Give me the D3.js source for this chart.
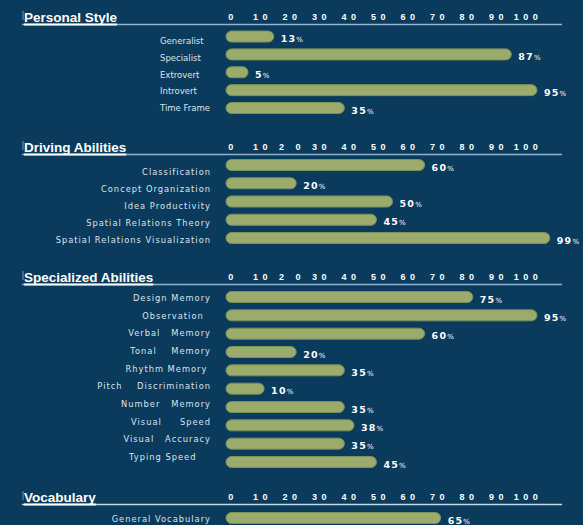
<!DOCTYPE html>
<html>
<head>
<meta charset="utf-8">
<script src="https://cdn.jsdelivr.net/npm/d3@7"></script>
<style>
  body { margin: 0; background: #0b3b5e; }
  svg { display: block; }
  text { white-space: pre; }
</style>
</head>
<body>
<div id="chart"></div>
<script>
// data
const personalLabels = ['Generalist', 'Specialist', 'Extrovert', 'Introvert', 'Time Frame'];
const personalValues = [13, 87, 5, 95, 35];

const drivingLabels = ['Classification', 'Concept Organization', 'Idea Productivity',
  'Spatial Relations Theory', 'Spatial Relations Visualization'];
const drivingValues = [60, 20, 50, 45, 99];

const specializedLabels = ['Design Memory', 'Observation  ', 'Verbal   Memory', 'Tonal    Memory',
  'Rhythm Memory ', 'Pitch    Discrimination', 'Number   Memory', 'Visual     Speed',
  'Visual   Accuracy', 'Typing Speed    '];
const specializedValues = [75, 95, 60, 20, 35, 10, 35, 38, 35, 45];

const vocabLabels = ['General Vocabulary'];
const vocabValues = [65];

const tickValues = [0, 10, 20, 30, 40, 50, 60, 70, 80, 90, 100];

const width = 583, height = 525;
const barLeft = 226, barH = 11;

// bar scale and (slightly compressed) tick-label scale, as in the original
const x = d3.scaleLinear().domain([0, 100]).range([232, 553]);
const xTick = d3.scaleLinear().domain([0, 100]).range([233, 528]);

const sections = [
  { title: 'Personal Style', labels: personalLabels, values: personalValues,
    headY: 22, bars: [36.5, 108], lab: [41, 108], align: 'left', gap: false },
  { title: 'Driving Abilities', labels: drivingLabels, values: drivingValues,
    headY: 152, bars: [165, 238], lab: [172, 240], align: 'right', gap: true },
  { title: 'Specialized Abilities', labels: specializedLabels, values: specializedValues,
    headY: 282, bars: [297, 462], lab: [298, 457], align: 'right', gap: true },
  { title: 'Vocabulary', labels: vocabLabels, values: vocabValues,
    headY: 502, bars: [518, 518], lab: [519, 519], align: 'right', gap: false },
];

const svg = d3.select('#chart').append('svg')
  .attr('width', width).attr('height', height);

svg.append('rect').attr('width', width).attr('height', height).attr('fill', '#0a3a5c');

sections.forEach((s) => {
  const g = svg.append('g');
  const lineY = s.headY + 2.5;

  // rule under the header
  g.append('line')
    .attr('x1', 22).attr('x2', 562)
    .attr('y1', lineY).attr('y2', lineY)
    .attr('stroke', s.title === 'Vocabulary' ? '#c4dde6' : '#8fb3cf')
    .attr('stroke-width', 1.5);

  g.append('line')
    .attr('x1', 23).attr('x2', 23)
    .attr('y1', s.headY - 11).attr('y2', s.headY - 2)
    .attr('stroke', '#6f95b5').attr('stroke-width', 1);

  const head = g.append('text')
    .attr('x', 24).attr('y', s.headY)
    .attr('fill', '#ffffff')
    .style('font-family', 'Liberation Sans, Arial, sans-serif')
    .style('font-weight', 'bold')
    .style('font-size', '13.5px')
    .text(s.title);
  const hw = head.node().getComputedTextLength();
  g.append('line')
    .attr('x1', 24).attr('x2', 24 + hw)
    .attr('y1', lineY).attr('y2', lineY)
    .attr('stroke', '#ffffff').attr('stroke-width', 2);

  // tick labels
  g.selectAll('.tick')
    .data(tickValues)
    .join('text')
    .attr('class', 'tick')
    .attr('x', (d) => xTick(d))
    .attr('y', s.headY - 2)
    .attr('text-anchor', 'middle')
    .attr('fill', '#ffffff')
    .style('font-family', 'Liberation Sans, Arial, sans-serif')
    .style('font-weight', 'bold')
    .style('font-size', '9px')
    .style('letter-spacing', '4.5px')
    .text((d) => (s.gap && d === 20 ? '2 0' : String(d)));

  const idx = s.values.map((d, i) => i);
  const yBar = d3.scalePoint().domain(idx).range(s.bars);
  const yLab = d3.scalePoint().domain(idx).range(s.lab);

  // category labels
  g.selectAll('.label')
    .data(s.labels)
    .join('text')
    .attr('class', 'label')
    .attr('x', s.align === 'left' ? 160 : 211)
    .attr('y', (d, i) => yLab(i) + 3)
    .attr('text-anchor', s.align === 'left' ? 'start' : 'end')
    .attr('fill', '#dbe4ec')
    .style('font-family', 'DejaVu Sans, Verdana, sans-serif')
    .style('font-size', s.align === 'left' ? '8.5px' : '8.3px')
    .style('letter-spacing', s.align === 'left' ? '0px' : '1px')
    .text((d) => d);

  // rounded bars
  g.selectAll('.bar')
    .data(s.values)
    .join('rect')
    .attr('class', 'bar')
    .attr('x', barLeft)
    .attr('y', (d, i) => yBar(i) - barH / 2)
    .attr('width', (d) => Math.max(barH + 6, x(d) - barLeft))
    .attr('height', barH)
    .attr('rx', barH / 2)
    .attr('fill', '#9bab6b')
    .attr('stroke', '#7d905c')
    .attr('stroke-width', 1);

  // value labels
  const val = g.selectAll('.val')
    .data(s.values)
    .join('text')
    .attr('class', 'val')
    .attr('x', (d) => Math.max(barLeft + barH + 6, x(d)) + 7)
    .attr('y', (d, i) => yBar(i) + 5.5)
    .attr('fill', '#ffffff')
    .style('font-family', 'DejaVu Sans, Verdana, sans-serif')
    .style('font-weight', 'bold')
    .style('font-size', '9.5px')
    .style('letter-spacing', '1.2px');
  val.append('tspan').text((d) => d);
  val.append('tspan').style('font-size', '7px').style('font-weight', 'normal').text('%');
});
</script>
</body>
</html>
